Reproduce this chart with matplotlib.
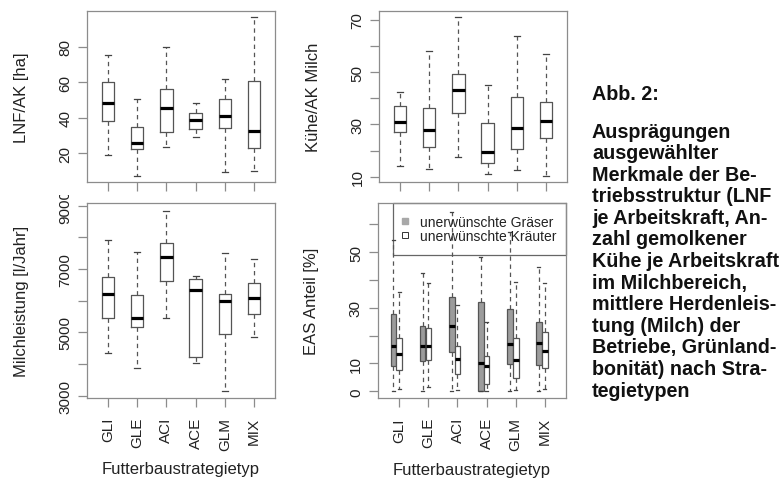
import matplotlib
matplotlib.use("Agg")
import matplotlib.pyplot as plt
from matplotlib.lines import Line2D
from matplotlib.patches import Rectangle
from matplotlib.transforms import Bbox, TransformedBbox

plt.rcParams['font.family'] = ['Liberation Sans', 'DejaVu Sans']

typen = ["GLI", "GLE", "ACI", "ACE", "GLM", "MIX"]
pos = [1, 2, 3, 4, 5, 6]

# LNF je Arbeitskraft [ha]
lnf_lo = [19.2, 7.4, 23.7, 29.0, 9.7, 9.9]
lnf_q1 = [38.0, 22.4, 31.8, 33.7, 34.0, 23.0]
lnf_med = [48.1, 25.8, 45.3, 38.9, 41.1, 32.5]
lnf_q3 = [60.0, 34.6, 56.5, 42.6, 50.9, 61.0]
lnf_hi = [75.2, 50.5, 79.9, 48.3, 61.7, 96.7]

# Kuehe je AK Milch
kuh_lo = [14.0, 12.8, 17.6, 11.0, 12.7, 10.4]
kuh_q1 = [27.0, 21.2, 34.3, 15.2, 20.6, 24.9]
kuh_med = [30.8, 28.0, 43.2, 19.4, 28.6, 31.3]
kuh_q3 = [36.9, 36.4, 49.2, 30.5, 40.5, 38.7]
kuh_hi = [42.5, 58.1, 71.1, 45.0, 63.9, 56.9]

# Milchleistung [l/Jahr]
milch_lo = [4350, 3880, 5440, 4030, 3140, 4850]
milch_q1 = [5450, 5160, 6620, 4230, 4940, 5590]
milch_med = [6220, 5460, 7380, 6330, 6000, 6080]
milch_q3 = [6760, 6180, 7810, 6670, 6210, 6550]
milch_hi = [7930, 7530, 8840, 6790, 7500, 7330]

# EAS Anteil [%] - unerwuenschte Graeser
gras_lo = [0, 0, 0, 0, 0, 0]
gras_q1 = [9.2, 10.8, 14.0, 0.0, 9.9, 9.6]
gras_med = [16.4, 16.4, 23.6, 10.2, 17.1, 17.4]
gras_q3 = [27.9, 23.6, 34.0, 32.0, 29.6, 25.0]
gras_hi = [54.5, 42.4, 64.5, 48.4, 57.2, 44.7]

# EAS Anteil [%] - unerwuenschte Kraeuter
kraut_lo = [1.0, 1.4, 0.3, 0.0, 0.3, 1.0]
kraut_q1 = [7.8, 11.4, 6.1, 2.5, 4.9, 8.4]
kraut_med = [13.3, 16.2, 11.5, 9.0, 11.4, 14.4]
kraut_q3 = [19.1, 22.7, 16.4, 12.7, 19.1, 21.2]
kraut_hi = [35.8, 38.9, 31.0, 25.0, 39.4, 39.0]

legende = ["unerwünschte Gräser", "unerwünschte Kräuter"]

text_zeilen = ["Ausprägungen", "ausgewählter", "Merkmale der Be-",
               "triebsstruktur (LNF", "je Arbeitskraft, An-", "zahl gemolkener",
               "Kühe je Arbeitskraft", "im Milchbereich,", "mittlere Herdenleis-",
               "tung (Milch) der", "Betriebe, Grünland-", "bonität) nach Stra-",
               "tegietypen"]

W, H = 782, 481
fig = plt.figure(figsize=(W / 100, H / 100), dpi=100)

achse = '#8c8c8c'
linie = '#555555'


def stats(lo, q1, med, q3, hi):
    return [dict(whislo=a, q1=b, med=c, q3=d, whishi=e, fliers=[])
            for a, b, c, d, e in zip(lo, q1, med, q3, hi)]


def boxen(ax, st, positions, width, capw, fill=None):
    kw = dict(
        positions=positions, widths=width, capwidths=capw, showfliers=False,
        medianprops=dict(color='black', linewidth=2.3, solid_capstyle='butt'),
        whiskerprops=dict(color=linie, linewidth=0.9, linestyle=(0, (3.5, 3))),
        capprops=dict(color='#444444', linewidth=0.9),
        manage_ticks=False,
    )
    if fill is None:
        kw['boxprops'] = dict(color=linie, linewidth=0.9)
        ax.bxp(st, **kw)
    else:
        kw['patch_artist'] = True
        kw['boxprops'] = dict(facecolor=fill, edgecolor=linie, linewidth=0.9)
        ax.bxp(st, **kw)


def panel(px):
    l, t, r, b = px
    return fig.add_axes([l / W, 1 - b / H, (r - l) / W, (b - t) / H])


def rahmen(ax, xlim, ylim, yticks, ylabels, ylabel):
    ax.set_xlim(*xlim)
    ax.set_ylim(*ylim)
    for s in ax.spines.values():
        s.set_color(achse)
        s.set_linewidth(0.9)
    ax.tick_params(color=achse, length=6.5, width=0.9, labelsize=11,
                   labelcolor='#222222')
    ax.tick_params(axis='y', pad=4)
    ax.set_yticks(yticks, ylabels, rotation=90, va='center')
    ax.set_ylabel(ylabel, fontsize=12, color='#222222', va='center')
    ax.yaxis.set_label_coords(-0.35, 0.5)


# oben links
ax1 = panel((87, 12, 275, 183))
boxen(ax1, stats(lnf_lo, lnf_q1, lnf_med, lnf_q3, lnf_hi), pos, 0.43, 0.2)
rahmen(ax1, (0.28, 6.72), (3.8, 100.3), [20, 40, 60, 80],
       ["20", "40", "60", "80"], "LNF/AK [ha]")
ax1.set_xticks(pos, [])

# oben rechts
ax2 = panel((379, 12, 567, 183))
boxen(ax2, stats(kuh_lo, kuh_q1, kuh_med, kuh_q3, kuh_hi), pos, 0.43, 0.2)
rahmen(ax2, (0.28, 6.72), (8.0, 73.3), [10, 20, 30, 40, 50, 60, 70],
       ["10", "", "30", "", "50", "", "70"], "Kühe/AK Milch")
ax2.set_xticks(pos, [])

# unten links
ax3 = panel((87, 204, 275, 399))
boxen(ax3, stats(milch_lo, milch_q1, milch_med, milch_q3, milch_hi), pos, 0.43, 0.2)
rahmen(ax3, (0.28, 6.72), (2926, 9084), [3000, 4000, 5000, 6000, 7000, 8000, 9000],
       ["3000", "", "5000", "", "7000", "", "9000"], "Milchleistung [l/Jahr]")
ax3.set_xticks(pos, typen, rotation=90, ha='center', va='top')
ax3.tick_params(axis='x', pad=7)
ax3.set_xlabel("Futterbaustrategietyp", fontsize=12, color='#222222', va='center')
ax3.xaxis.set_label_coords(0.5, -71 / 195)
# oberste Beschriftung wird vom oberen Panel angeschnitten
clip = TransformedBbox(Bbox([[0, 0], [1, 1 - 196 / H]]), fig.transFigure)
lab9 = ax3.yaxis.get_major_ticks()[-1].label1
lab9.set_clip_on(True)
lab9.set_clip_box(clip)

# unten rechts
ax4 = panel((377.5, 204, 566, 399.3))
boxen(ax4, stats(gras_lo, gras_q1, gras_med, gras_q3, gras_hi),
      [p - 0.2 for p in pos], 0.195, 0.1, fill='#9c9c9c')
boxen(ax4, stats(kraut_lo, kraut_q1, kraut_med, kraut_q3, kraut_hi),
      pos, 0.195, 0.1, fill='white')
rahmen(ax4, (0.25, 6.73), (-2.52, 67.7), [0, 10, 20, 30, 40, 50, 60],
       ["0", "10", "", "30", "", "50", ""], "EAS Anteil [%]")
ax4.set_xticks(pos, typen, rotation=90, ha='center', va='top')
ax4.tick_params(axis='x', pad=7)
ax4.set_xlabel("Futterbaustrategietyp", fontsize=12, color='#222222', va='center')
ax4.xaxis.set_label_coords(0.5, -71 / 195)

handles = [
    Line2D([], [], ls='none', marker='s', ms=4.2, mfc='#a8a8a8', mec='#a8a8a8'),
    Line2D([], [], ls='none', marker='s', ms=4.2, mfc='white', mec='#333333', mew=0.7),
]
leg = ax4.legend(handles, legende, loc='upper left', bbox_to_anchor=(0.116, 0.94),
                 borderpad=0, borderaxespad=0, frameon=False, fontsize=10,
                 handlelength=0.85, handletextpad=0.65, labelspacing=0.0)
for txt in leg.get_texts():
    txt.set_color('#222222')
x0 = (393 - 377.5) / (566 - 377.5)
y0 = (399.3 - 256) / (399.3 - 204)
ax4.add_patch(Rectangle((x0, y0), 1 - x0, 1 - y0, transform=ax4.transAxes,
                        fill=False, edgecolor='#666666', linewidth=0.9, clip_on=False))

# Bildunterschrift rechts
fig.text(592 / W, 1 - 94 / H, "Abb. 2:", fontsize=14.2, fontweight='bold',
         color='#111111', ha='left', va='center')
for i, z in enumerate(text_zeilen):
    fig.text(592 / W, 1 - (132 + 21.6 * i) / H, z, fontsize=14.2, fontweight='bold',
             color='#111111', ha='left', va='center')

fig.savefig("out.png", dpi=100, facecolor='white')
